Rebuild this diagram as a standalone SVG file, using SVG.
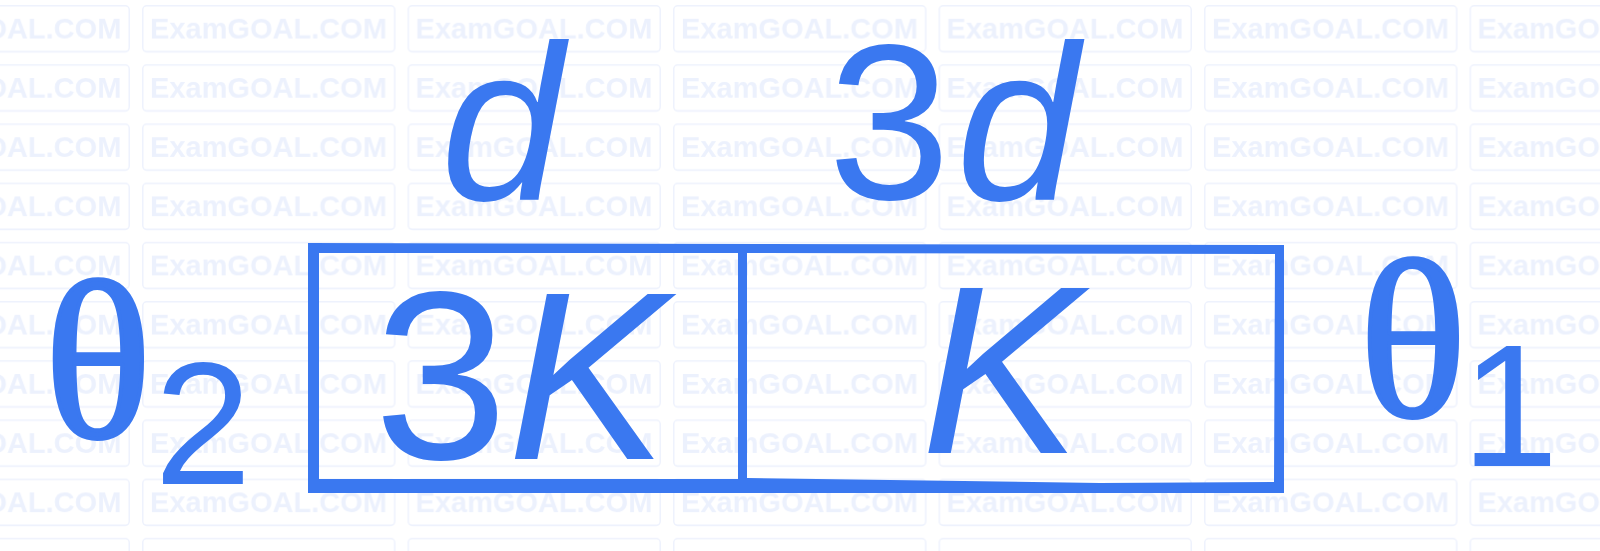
<svg xmlns="http://www.w3.org/2000/svg" width="1600" height="551" viewBox="0 0 1600 551">
  <style>
    .wm { font-family: "Liberation Sans", Arial, sans-serif; font-weight: bold; font-size: 29px; fill: #ecf1fd; }
    .wmb { fill: none; stroke: #eef2fd; stroke-width: 1.5; }
    .lbl { font-family: "Liberation Sans", Arial, sans-serif; font-size: 240px; fill: #3a78f0; }
    .mid { text-anchor: middle; }
    .top { font-size: 220px; }
    .it { font-style: italic; }
    .th { font-family: "Liberation Serif", "Times New Roman", serif; font-size: 224px; fill: #3a78f0; stroke: #3a78f0; stroke-width: 4; stroke-linejoin: round; text-anchor: middle; }
    .sub { font-family: "Liberation Sans", Arial, sans-serif; font-size: 175px; fill: #3a78f0; text-anchor: middle; }
    .box { fill: #3a78f0; fill-rule: evenodd; }
  </style>
  <defs>
    <pattern id="wmp" patternUnits="userSpaceOnUse" x="142" y="5" width="265.5" height="59.2">
      <rect class="wmb" x="0.75" y="0.75" width="252" height="46" rx="4"/>
      <text class="wm" x="8" y="33.5">ExamGOAL.COM</text>
    </pattern>
  </defs>
  <rect width="1600" height="551" fill="#ffffff"/>
  <rect id="watermark" width="1600" height="551" fill="url(#wmp)"/>

  <g id="connectors"></g>

  <g id="slab">
    <path class="box" d="M308,243 L1284,245 L1284,493 L308,493 Z
      M319,253 L738,253 L738,479 L319,479 Z
      M747,253 L1275,254 L1274,482 L1100,483 L747,478 Z"/>
  </g>

  <g id="label-d">
    <text class="lbl top it mid" x="502" y="199">d</text>
  </g>
  <g id="label-3d">
    <text class="lbl top" x="828" y="199">3<tspan class="it" dx="6">d</tspan></text>
  </g>
  <g id="layer-3K">
    <text class="lbl" x="374" y="459">3<tspan class="it">K</tspan></text>
  </g>
  <g id="layer-K">
    <text class="lbl it mid" x="1001" y="453">K</text>
  </g>
  <g id="theta2">
    <text class="th" x="98" y="437">θ</text>
    <text class="sub" x="203" y="484">2</text>
  </g>
  <g id="theta1">
    <text class="th" x="1413" y="416">θ</text>
    <text class="sub" x="1510" y="466">1</text>
  </g>
</svg>
